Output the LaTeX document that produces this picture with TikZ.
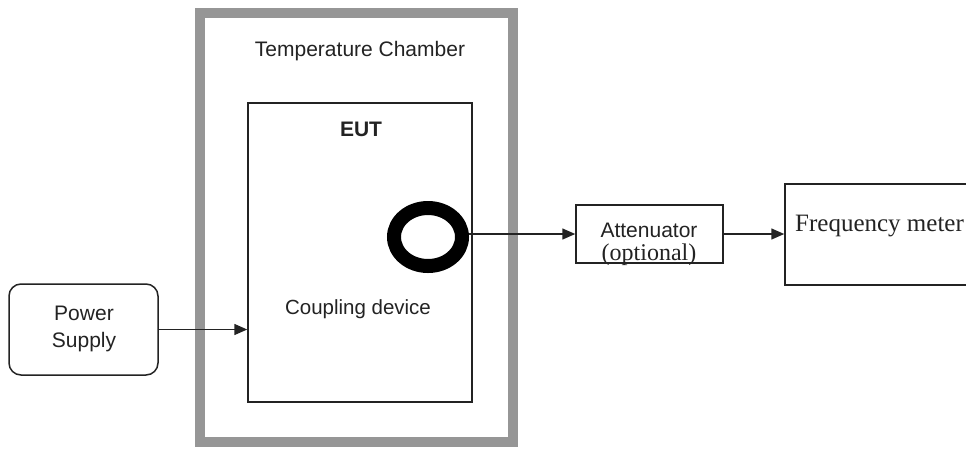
\documentclass[tikz,border=0pt]{standalone}
\usepackage{fontspec}
\setmainfont{Liberation Sans}
\newfontfamily\tnr{Liberation Serif}
\usetikzlibrary{arrows.meta,shapes.geometric}
\definecolor{chgray}{RGB}{150,150,150}
\definecolor{ink}{RGB}{35,35,35}
\tikzset{
  box/.style={draw=ink, line width=1.5pt, inner sep=0pt},
  conn/.style={draw=ink, line width=1.5pt, -{Triangle[length=13pt,width=11pt]}},
  lbl/.style={text=ink, inner sep=0pt, font=\fontsize{21}{24}\selectfont},
}
\begin{document}
\begin{tikzpicture}[x=1pt,y=-1pt]
\clip (0,0) rectangle (966,448);
\fill[white] (0,0) rectangle (966,448);
% chamber
\node (chamber) [draw=chgray, line width=10pt, minimum width=313pt, minimum height=429pt, inner sep=0pt] at (356.5,227.5) {};
\node (chlabel) [lbl] at (360,51) {Temperature Chamber};
% EUT
\node (eut) [box, minimum width=224pt, minimum height=299pt] at (360,252.5) {};
\node (eutlabel) [lbl, font=\fontsize{21}{24}\selectfont\bfseries] at (361,129) {EUT};
\node (couple) [lbl, font=\fontsize{20.5}{24}\selectfont] at (358,309) {Coupling device};
% ring
\node (ring) [ellipse, draw=black, line width=14pt, minimum width=68pt, minimum height=58pt, inner sep=0pt] at (428,237) {};
% attenuator
\node (att) [box, minimum width=147pt, minimum height=58pt] at (649.5,234) {};
\node (attlabel) [lbl, align=center, font=\fontsize{21}{23}\selectfont] at (649,244) {Attenuator\\{\tnr\fontsize{24}{23}\selectfont (optional)}};
% frequency meter
\node (fm) [box, minimum width=260pt, minimum height=101pt] at (915,234.5) {};
\node (fmlabel) [lbl, anchor=west, font=\tnr\fontsize{25}{28}\selectfont] at (795,226) {Frequency meter};
% power supply
\node (ps) [box, rounded corners=12pt, minimum width=149pt, minimum height=91pt] at (83.5,329.5) {};
\node (pslabel) [lbl, align=center, font=\fontsize{21}{27}\selectfont] at (84,328.5) {Power\\Supply};
% connectors
\draw[conn] (ps.east) -- (ps.east -| eut.west);
\draw[conn] (ring.east |- att.west) -- (att.west);
\draw[conn] (att.east) -- (att.east -| fm.west);
\end{tikzpicture}
\end{document}
